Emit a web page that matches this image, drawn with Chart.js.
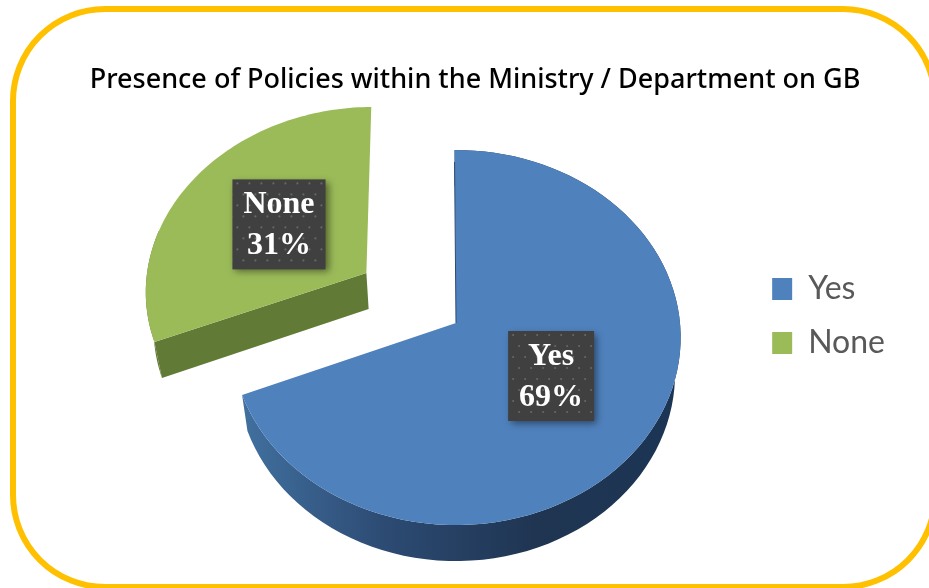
<!DOCTYPE html>
<html>
<head>
<meta charset="utf-8">
<title>Presence of Policies</title>
<script src="https://cdn.jsdelivr.net/npm/chart.js@4/dist/chart.umd.min.js"></script>
<style>
  html, body { margin: 0; padding: 0; background: #fff; overflow: hidden; }
  canvas { display: block; }
</style>
</head>
<body>
<canvas id="pie" width="929" height="588"></canvas>
<script>
const chartTitle = 'Presence of Policies within the Ministry / Department on GB';
const categories = ['Yes', 'None'];
const shares     = [69, 31];

const sliceColors = ['#4f81bd', '#9bbb59'];
const sliceOffsets = [0, 177];
// rim shading, left to right
const rimStops = [['#41709f', '#2c4a72', '#1f3552', '#1c3554'], ['#617a35', '#617a35']];

/* ── Tilted projection of the flat pie ── */
const tilt = { x: 456, y: 323, sx: 224, sy: 186.4, persp: 0.0775, depth: 36, shrink: 0.025 };

// u, v in pie radii from the pie centre
function project(u, v) {
    const w = 1 - tilt.persp * v;
    return { x: tilt.x + tilt.sx * u / w, y: tilt.y + tilt.sy * v / w };
}

function slicePoints(arc) {
    const { startAngle, endAngle, outerRadius: r } = arc.getProps(['startAngle', 'endAngle', 'outerRadius'], true);
    const mid = (startAngle + endAngle) / 2;
    const push = (arc.options.offset || 0) / 2 / r;
    const ox = Math.cos(mid) * push, oy = Math.sin(mid) * push;
    const rim = [];
    for (let i = 0; i <= 90; i++) {
        const a = startAngle + (endAngle - startAngle) * i / 90;
        rim.push(project(ox + Math.cos(a), oy + Math.sin(a)));
    }
    const at = (k) => project(ox + Math.cos(mid) * k, oy + Math.sin(mid) * k);
    return { apex: project(ox, oy), rim, at };
}

function tracePoly(ctx, pts) {
    ctx.beginPath();
    pts.forEach((p, i) => i ? ctx.lineTo(p.x, p.y) : ctx.moveTo(p.x, p.y));
    ctx.closePath();
}

function drawSlice(ctx, arc, i) {
    const { apex, rim } = slicePoints(arc);
    // the underside sits a little further away, so it narrows toward the middle
    const drop = (p) => ({ x: p.x + (tilt.x - p.x) * tilt.shrink, y: p.y + tilt.depth });
    const xs = rim.map(p => p.x);
    const grad = ctx.createLinearGradient(Math.min(...xs), 0, Math.max(...xs), 0);
    rimStops[i].forEach((c, j) => grad.addColorStop(j / (rimStops[i].length - 1), c));

    // curved wall: the far slice only shows it near its lower corner
    const wall = i ? rim.slice(0, 30) : rim;
    ctx.fillStyle = grad;
    tracePoly(ctx, wall.concat(wall.slice().reverse().map(drop)));
    ctx.fill();

    // the far slice shows its lower cut face through the gap
    if (i === 1) {
        ctx.fillStyle = rimStops[i][0];
        tracePoly(ctx, [apex, rim[0], drop(rim[0]), drop(apex)]);
        ctx.fill();
    }

    ctx.fillStyle = sliceColors[i];
    tracePoly(ctx, [apex].concat(rim));
    ctx.fill();

    // the near slice keeps a thin dark line along its upright cut
    if (i === 0) {
        ctx.strokeStyle = '#2c4a72';
        ctx.lineWidth = 1;
        ctx.beginPath();
        ctx.moveTo(rim[0].x, rim[0].y + 12);
        ctx.lineTo(apex.x, apex.y);
        ctx.stroke();
    }
}

/* ── Value tag: dark dotted box with two lines of text ── */
function drawTag(ctx, c, lines) {
    ctx.font = 'bold 32px "Liberation Serif", serif';
    const w = Math.max(...lines.map(s => ctx.measureText(s).width)) + 22;
    const h = 90;
    const x = c.x - w / 2, y = c.y - h / 2;

    ctx.save();
    ctx.shadowColor = 'rgba(0,0,0,0.45)';
    ctx.shadowBlur = 7;
    ctx.shadowOffsetX = 3;
    ctx.shadowOffsetY = 3;
    ctx.fillStyle = '#404040';
    ctx.fillRect(x, y, w, h);
    ctx.restore();

    ctx.save();
    ctx.beginPath();
    ctx.rect(x, y, w, h);
    ctx.clip();
    ctx.fillStyle = 'rgba(255,255,255,0.2)';
    for (let row = 0; row * 11 < h; row++) {
        for (let col = -1; col * 12 < w; col++) {
            ctx.beginPath();
            ctx.arc(x + 5 + col * 12 + (row % 2) * 6, y + 4 + row * 11, 1.1, 0, Math.PI * 2);
            ctx.fill();
        }
    }
    ctx.restore();

    ctx.fillStyle = '#fff';
    ctx.textAlign = 'center';
    ctx.textBaseline = 'middle';
    lines.forEach((s, k) => ctx.fillText(s, c.x, c.y + (k - 0.5) * 41 + 1));
}

const tiltedPie = {
    id: 'tiltedPie',
    beforeDraw(chart) {
        const ctx = chart.ctx;
        ctx.save();
        ctx.strokeStyle = '#ffc000';
        ctx.lineWidth = 6;
        ctx.beginPath();
        ctx.roundRect(13, 9, 922, 578, 92);
        ctx.stroke();
        ctx.restore();
    },
    beforeDatasetsDraw(chart) {
        const ctx = chart.ctx;
        const arcs = chart.getDatasetMeta(0).data;
        ctx.save();
        // far slice first so the near one sits in front
        [1, 0].forEach(i => drawSlice(ctx, arcs[i], i));
        arcs.forEach((arc, i) => {
            drawTag(ctx, slicePoints(arc).at(0.5), [categories[i], shares[i] + '%']);
        });
        ctx.restore();
        return false;
    },
};

new Chart(document.getElementById('pie'), {
    type: 'pie',
    data: {
        labels: categories,
        datasets: [{
            data: shares,
            backgroundColor: sliceColors,
            borderWidth: 0,
            offset: sliceOffsets,
            radius: 180,
        }],
    },
    options: {
        responsive: false,
        animation: false,
        rotation: -0.4,
        layout: { padding: { top: 44, left: 55, right: 34 } },
        plugins: {
            tooltip: { enabled: false },
            title: {
                display: true,
                text: chartTitle,
                color: '#000',
                font: { family: '"Noto Sans"', size: 27, weight: '500' },
                padding: { top: 20, bottom: 10 },
            },
            legend: {
                position: 'right',
                labels: {
                    color: '#595959',
                    font: { family: 'Lato', size: 32 },
                    boxWidth: 20,
                    boxHeight: 22,
                    padding: 22,
                },
            },
        },
    },
    plugins: [tiltedPie],
});
</script>
</body>
</html>
